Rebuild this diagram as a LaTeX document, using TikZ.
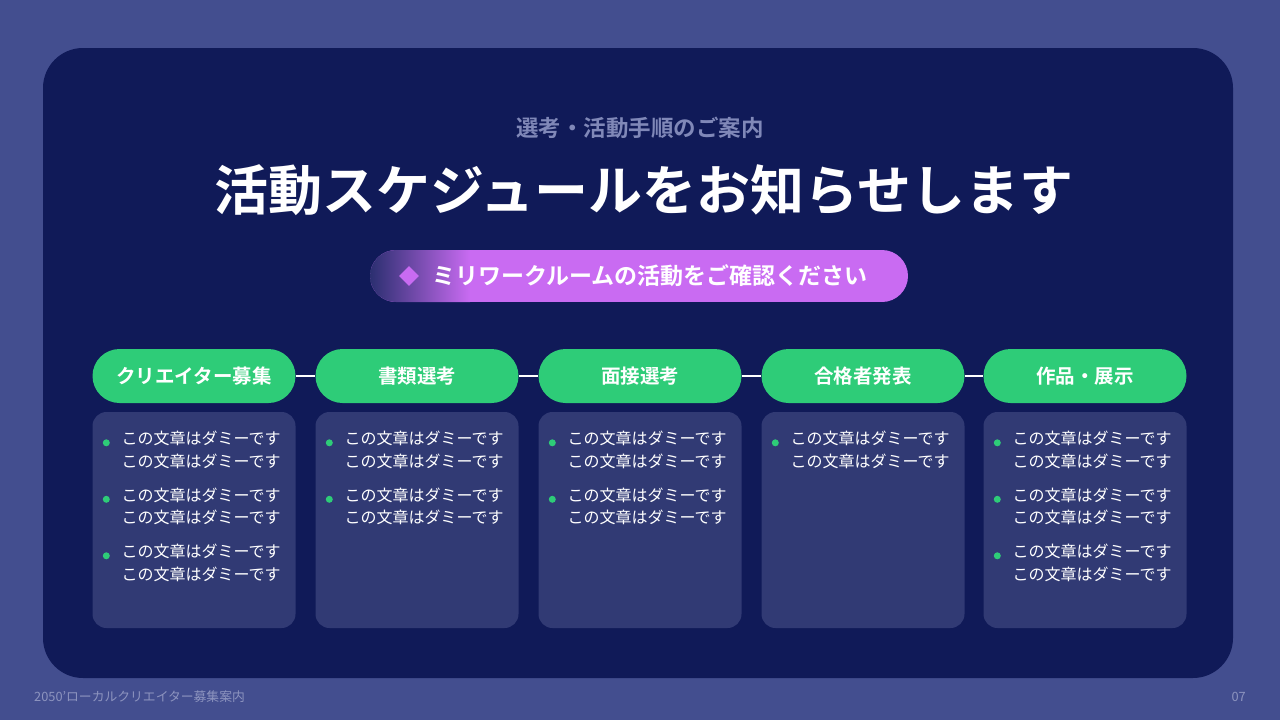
\documentclass[tikz,border=0pt]{standalone}
\usepackage{fontspec}
\setmainfont{Noto Sans CJK JP}
\newfontfamily\jpb{Noto Sans CJK JP Bold}
\usetikzlibrary{shapes.geometric}
\definecolor{bgc}{HTML}{434E8F}
\definecolor{panel}{HTML}{101A58}
\definecolor{card}{HTML}{313A74}
\definecolor{grn}{HTML}{2ECC78}
\definecolor{vio}{HTML}{C96BF2}
\definecolor{dpill}{HTML}{2B2F70}
\definecolor{subg}{HTML}{8088B8}
\tikzset{
 stage/.style={fill=grn,rounded corners=27pt,minimum width=203pt,minimum height=54pt,text=white,font=\jpb\fontsize{19.5}{22}\selectfont,inner sep=0},
 cardbox/.style={fill=card,rounded corners=14pt,minimum width=203pt,minimum height=216pt,inner sep=0},
 item/.style={anchor=north west,text=white,font=\fontsize{16}{22.5}\selectfont,align=left,inner sep=0},
 dot/.style={circle,fill=grn,inner sep=0,minimum size=7pt}
}
\begin{document}
\begin{tikzpicture}[x=1pt,y=-1pt]
\fill[bgc] (0,0) rectangle (1280,720);
\useasboundingbox (0,0) rectangle (1280,720);
\fill[panel,rounded corners=40pt] (43,48) rectangle (1233,678);
\node[text=subg,font=\jpb\fontsize{22.5}{24}\selectfont] (sub) at (640,128) {選考・活動手順のご案内};
\node[text=white,font=\jpb\fontsize{54}{58}\selectfont] (ttl) at (644,190) {活動スケジュールをお知らせします};
\begin{scope}
\clip[rounded corners=26pt] (370,250) rectangle (908,302);
\fill[vio] (370,250) rectangle (908,302);
\shade[left color=dpill,right color=vio] (370,250) rectangle (470,302);
\end{scope}
\node[diamond,fill=vio,inner sep=0,minimum size=20pt] (dia) at (409,276) {};
\node[anchor=west,text=white,font=\jpb\fontsize{23}{25}\selectfont,inner sep=0] (pt) at (432,276) {ミリワークルームの活動をご確認ください};
\foreach \i/\x/\t in {1/194/クリエイター募集,2/417/書類選考,3/640/面接選考,4/863/合格者発表,5/1085/作品・展示}{
 \node[stage] (s\i) at (\x,376) {\t};
 \node[cardbox] (c\i) at (\x,520) {};
}
\foreach \a/\b in {1/2,2/3,3/4,4/5} \draw[white,line width=2pt] (s\a.east) -- (s\b.west);
\newcommand\cardtext[2]{%
 \foreach \k in {1,...,#2}{
  \node[dot] (d#1\k) at ([xshift=14pt,yshift={-(31+(\k-1)*56.5)}]c#1.north west) {};
  \node[item] (t#1\k) at ([xshift=29pt,yshift={-(19+(\k-1)*56.5)}]c#1.north west) {この文章はダミーです\\この文章はダミーです};
 }}
\cardtext{1}{3}
\cardtext{2}{2}
\cardtext{3}{2}
\cardtext{4}{1}
\cardtext{5}{3}
\node[anchor=west,text=subg!90!white,font=\fontsize{12.8}{14}\selectfont,inner sep=0] (foot) at (34,697) {2050'ローカルクリエイター募集案内};
\node[anchor=east,text=subg!90!white,font=\fontsize{12.8}{14}\selectfont,inner sep=0] (pg) at (1246,697) {07};
\end{tikzpicture}
\end{document}
